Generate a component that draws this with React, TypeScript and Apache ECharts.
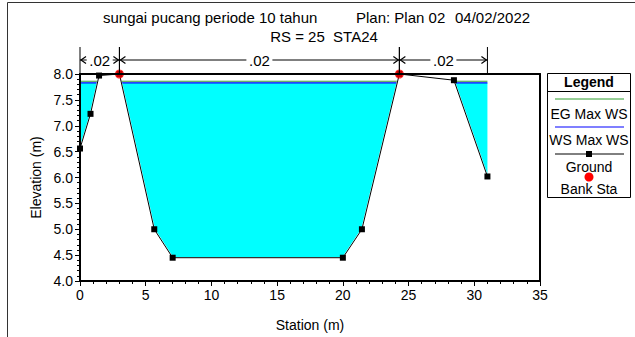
import React, { useEffect, useRef } from "react";
import * as echarts from "echarts";

// ---- data ----
const stations = [0, 0.8, 1.45, 3.0, 5.65, 7.05, 20.0, 21.45, 24.3, 28.45, 31.0];
const groundElev = [6.56, 7.23, 7.97, 8.0, 5.0, 4.45, 4.45, 5.0, 8.0, 7.88, 6.02];
const bankStations = [3.0, 24.3];
const bankElev = [8.0, 8.0];
const wsStations = [0, 31.0];
const wsElev = [7.83, 7.83];
const egElev = [7.86, 7.86];
const nStart = [0, 3.0, 24.3];
const nEnd = [3.0, 24.3, 31.0];
const nValues = [".02", ".02", ".02"];
const xMin = 0, xMax = 35, xStep = 5;
const yMin = 4, yMax = 8, yStep = 0.5;

const FONT = "'Liberation Sans', Arial, sans-serif";

function buildOption(): any {
  const groundData = stations.map((s, i) => [s, groundElev[i]]);
  const bankData = bankStations.map((s, i) => [s, bankElev[i]]);
  const wsData = wsStations.map((s, i) => [s, wsElev[i]]);
  const egData = wsStations.map((s, i) => [s, egElev[i]]);
  const nData = nStart.map((s, i) => [s, nEnd[i], i]);

  const frameAxis = {
    type: "value",
    axisLine: { show: true, onZero: false, lineStyle: { color: "#000", width: 2 } },
    axisTick: { show: false },
    axisLabel: { show: false },
    splitLine: { show: false },
    z: 10,
  };

  return {
    animation: false,
    backgroundColor: "#fff",
    grid: { left: 80, right: 95, top: 74, bottom: 51, containLabel: false },
    xAxis: [
      {
        type: "value",
        position: "bottom",
        min: xMin,
        max: xMax,
        interval: xStep,
        z: 10,
        axisLine: { show: true, onZero: false, lineStyle: { color: "#000", width: 2 } },
        axisTick: { show: true, length: 5, lineStyle: { color: "#000", width: 1 } },
        minorTick: { show: true, splitNumber: 5, length: 3, lineStyle: { color: "#000", width: 1 } },
        splitLine: { show: false },
        axisLabel: { color: "#000", fontSize: 14, fontFamily: FONT, margin: 7 },
        name: "Station (m)",
        nameLocation: "middle",
        nameGap: 37,
        nameTextStyle: { color: "#000", fontSize: 14, fontFamily: FONT },
      },
      { ...frameAxis, min: xMin, max: xMax, position: "top" },
    ],
    yAxis: [
      {
        type: "value",
        position: "left",
        min: yMin,
        max: yMax,
        interval: yStep,
        z: 10,
        axisLine: { show: true, onZero: false, lineStyle: { color: "#000", width: 2 } },
        axisTick: { show: true, length: 5, lineStyle: { color: "#000", width: 1 } },
        minorTick: { show: true, splitNumber: 5, length: 3, lineStyle: { color: "#000", width: 1 } },
        splitLine: { show: false },
        axisLabel: {
          color: "#000",
          fontSize: 14,
          fontFamily: FONT,
          margin: 7,
          formatter: (v: number) => v.toFixed(1),
        },
        name: "Elevation (m)",
        nameLocation: "middle",
        nameGap: 36,
        nameTextStyle: { color: "#000", fontSize: 14, fontFamily: FONT },
      },
      { ...frameAxis, min: yMin, max: yMax, position: "right" },
    ],
    series: [
      {
        name: "WS Max WS",
        type: "line",
        data: wsData,
        symbol: "none",
        lineStyle: { color: "#0000FF", width: 1.2 },
        areaStyle: { color: "#00FFFF", opacity: 1, origin: "start" },
        z: 2,
      },
      {
        name: "EG Max WS",
        type: "line",
        data: egData,
        symbol: "none",
        lineStyle: { color: "#2E9E2E", width: 1 },
        z: 2,
      },
      {
        name: "Ground fill",
        type: "custom",
        data: [groundData[0]],
        clip: false,
        silent: true,
        z: 3,
        renderItem: (params: any, api: any) => {
          const pts = groundData.map((d) => api.coord(d));
          pts.push(api.coord([stations[stations.length - 1], yMin]));
          pts.push(api.coord([stations[0], yMin]));
          return {
            type: "polygon",
            shape: { points: pts },
            style: { fill: "#fff", stroke: "#fff", lineWidth: 1.5 },
          };
        },
      },
      {
        name: "Ground",
        type: "line",
        data: groundData,
        symbol: "rect",
        symbolSize: 6,
        clip: false,
        itemStyle: { color: "#000" },
        lineStyle: { color: "#000", width: 1 },
        z: 4,
      },
      {
        name: "Bank Sta",
        type: "scatter",
        data: bankData,
        symbol: "circle",
        symbolSize: 9,
        clip: false,
        itemStyle: { color: "#FF0000" },
        z: 5,
      },
      {
        name: "n values",
        type: "custom",
        data: nData,
        encode: { x: [0, 1] },
        clip: false,
        silent: true,
        z: 11,
        renderItem: (params: any, api: any) => {
          const x0 = api.value(0);
          const x1 = api.value(1);
          const idx = api.value(2);
          const p0 = api.coord([x0, yMax]);
          const p1 = api.coord([x1, yMax]);
          const base = p0[1];
          const ya = base - 14;
          const top = base - 27;
          const mid = (p0[0] + p1[0]) / 2;
          const half = 11;
          const ls = { stroke: "#000", lineWidth: 1 };
          return {
            type: "group",
            children: [
              { type: "line", shape: { x1: p0[0], y1: top, x2: p0[0], y2: base }, style: ls },
              { type: "line", shape: { x1: p1[0], y1: top, x2: p1[0], y2: base }, style: ls },
              { type: "line", shape: { x1: p0[0], y1: ya, x2: mid - half - 2, y2: ya }, style: ls },
              { type: "line", shape: { x1: mid + half + 2, y1: ya, x2: p1[0], y2: ya }, style: ls },
              {
                type: "polyline",
                shape: { points: [[p0[0] + 6, ya - 3.5], [p0[0] + 1, ya], [p0[0] + 6, ya + 3.5]] },
                style: { stroke: "#000", lineWidth: 1.2, fill: "none" },
              },
              {
                type: "polyline",
                shape: { points: [[p1[0] - 6, ya - 3.5], [p1[0] - 1, ya], [p1[0] - 6, ya + 3.5]] },
                style: { stroke: "#000", lineWidth: 1.2, fill: "none" },
              },
              {
                type: "text",
                style: {
                  text: nValues[idx],
                  x: mid,
                  y: ya,
                  align: "center",
                  verticalAlign: "middle",
                  font: `15px ${FONT}`,
                  fill: "#000",
                },
              },
            ],
          };
        },
      },
    ],
    graphic: [
      // outer border
      { type: "line", shape: { x1: 7.5, y1: 2.5, x2: 7.5, y2: 337 }, style: { stroke: "#333", lineWidth: 1 } },
      { type: "line", shape: { x1: 7.5, y1: 2.5, x2: 635, y2: 2.5 }, style: { stroke: "#333", lineWidth: 1 } },
      // titles
      {
        type: "text",
        style: { text: "sungai pucang periode 10 tahun", x: 103, y: 17, verticalAlign: "middle", font: `15px ${FONT}`, fill: "#000" },
      },
      {
        type: "text",
        style: { text: "Plan: Plan 02", x: 356, y: 17, verticalAlign: "middle", font: `15px ${FONT}`, fill: "#000" },
      },
      {
        type: "text",
        style: { text: "04/02/2022", x: 455, y: 17, verticalAlign: "middle", font: `15px ${FONT}`, fill: "#000" },
      },
      {
        type: "text",
        style: { text: "RS = 25  STA24", x: 324, y: 36, align: "center", verticalAlign: "middle", font: `15px ${FONT}`, fill: "#000" },
      },
      // legend box
      {
        type: "group",
        children: [
          { type: "rect", shape: { x: 547.5, y: 73.5, width: 83, height: 124 }, style: { fill: "#fff", stroke: "#000", lineWidth: 1 } },
          { type: "text", style: { text: "Legend", x: 589, y: 82, align: "center", verticalAlign: "middle", font: `bold 14px ${FONT}`, fill: "#000" } },
          { type: "line", shape: { x1: 547.5, y1: 91.5, x2: 630.5, y2: 91.5 }, style: { stroke: "#000", lineWidth: 1 } },
          { type: "line", shape: { x1: 555, y1: 99, x2: 624, y2: 99 }, style: { stroke: "#2E9E2E", lineWidth: 1 } },
          { type: "text", style: { text: "EG Max WS", x: 589, y: 114, align: "center", verticalAlign: "middle", font: `14px ${FONT}`, fill: "#000" } },
          { type: "line", shape: { x1: 555, y1: 127, x2: 624, y2: 127 }, style: { stroke: "#0000FF", lineWidth: 1.2 } },
          { type: "text", style: { text: "WS Max WS", x: 589, y: 140, align: "center", verticalAlign: "middle", font: `14px ${FONT}`, fill: "#000" } },
          { type: "line", shape: { x1: 555, y1: 154, x2: 624, y2: 154 }, style: { stroke: "#000", lineWidth: 1 } },
          { type: "rect", shape: { x: 586, y: 151, width: 6, height: 6 }, style: { fill: "#000" } },
          { type: "text", style: { text: "Ground", x: 589, y: 167, align: "center", verticalAlign: "middle", font: `14px ${FONT}`, fill: "#000" } },
          { type: "circle", shape: { cx: 589, cy: 177, r: 4.5 }, style: { fill: "#FF0000" } },
          { type: "text", style: { text: "Bank Sta", x: 589, y: 189, align: "center", verticalAlign: "middle", font: `14px ${FONT}`, fill: "#000" } },
        ],
      },
    ],
  };
}

export default function App() {
  const ref = useRef<HTMLDivElement>(null);
  useEffect(() => {
    if (!ref.current) return;
    const chart = echarts.init(ref.current, null, { renderer: "svg" });
    chart.setOption(buildOption());
    return () => chart.dispose();
  }, []);
  return (
    <div
      ref={ref}
      style={{ position: "fixed", left: 0, top: 0, width: 635, height: 337, background: "#fff" }}
    />
  );
}
